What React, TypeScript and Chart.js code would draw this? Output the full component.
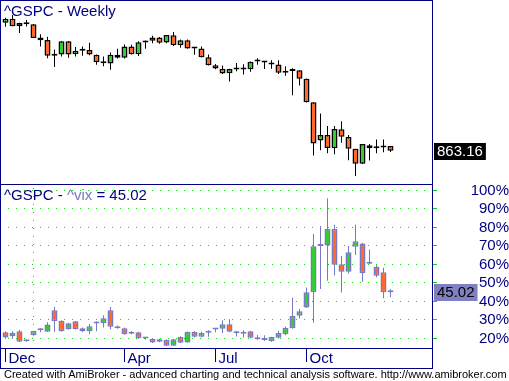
import React, { useEffect, useRef } from 'react';
import { Chart, registerables } from 'chart.js';

Chart.register(...registerables);

// Weekly bars: first week of Dec 2007 up to the week of 22 Dec 2008
const monthLabels = ['Dec', 'Apr', 'Jul', 'Oct'];
const monthBars = [0, 17, 30, 43];
const yearBar = 4;

const topTitle = '^GSPC - Weekly';
const lowTitleParts = ['^GSPC - ', '^vix', ' = 45.02'];
const spxLastLabel = '863.16';
const vixLastLabel = '45.02';

const spxOpen = [1486, 1505, 1468, 1484, 1478, 1414, 1402, 1325, 1331, 1395, 1332, 1350, 1353, 1330, 1293, 1288, 1330, 1316, 1370, 1333, 1390, 1398, 1414, 1389, 1425, 1376, 1400, 1360, 1360, 1318, 1279, 1262, 1240, 1261, 1258, 1260, 1297, 1298, 1292, 1283, 1242, 1251, 1255, 1213, 1099, 913, 940, 876, 968, 930, 873, 800, 890, 876, 879, 887];
const spxHigh = [1510, 1523, 1485, 1499, 1479, 1429, 1418, 1355, 1396, 1396, 1368, 1370, 1388, 1331, 1321, 1341, 1359, 1380, 1378, 1395, 1399, 1422, 1416, 1425, 1440, 1404, 1404, 1366, 1370, 1331, 1285, 1278, 1262, 1290, 1284, 1297, 1313, 1300, 1303, 1303, 1274, 1265, 1255, 1215, 1099, 1044, 984, 984, 1007, 940, 873, 896, 896, 918, 918, 887];
const spxLow = [1466, 1468, 1436, 1467, 1411, 1370, 1313, 1270, 1322, 1316, 1321, 1325, 1328, 1282, 1274, 1257, 1312, 1312, 1331, 1324, 1359, 1386, 1384, 1386, 1373, 1364, 1359, 1330, 1317, 1278, 1260, 1236, 1200, 1250, 1234, 1247, 1282, 1261, 1262, 1236, 1228, 1133, 1180, 1098, 840, 866, 852, 846, 903, 818, 741, 799, 816, 852, 856, 857];
const spxClose = [1504.66, 1467.95, 1484.46, 1478.49, 1411.88, 1401.02, 1325.19, 1330.61, 1395.42, 1331.29, 1349.99, 1353.11, 1330.63, 1293.37, 1288.14, 1329.51, 1315.22, 1370.4, 1332.83, 1390.33, 1397.84, 1413.9, 1388.28, 1425.35, 1375.93, 1400.38, 1360.68, 1360.03, 1317.93, 1278.38, 1262.9, 1239.49, 1260.68, 1257.76, 1260.31, 1296.32, 1298.2, 1292.2, 1282.83, 1242.31, 1251.7, 1255.08, 1213.27, 1099.23, 899.22, 940.55, 876.77, 968.75, 930.99, 873.29, 800.03, 896.24, 876.07, 879.73, 887.88, 863.16];

const vixOpen = [23.4, 21.2, 23.9, 18.5, 21.7, 24.4, 23.7, 35.2, 29.6, 25.0, 29.3, 25.5, 23.9, 28.1, 28.2, 35.2, 26.6, 25.5, 22.6, 23.4, 20.1, 19.9, 18.3, 19.2, 16.1, 20.8, 17.9, 23.5, 21.0, 23.1, 24.8, 25.3, 27.7, 23.9, 22.6, 23.9, 20.6, 19.2, 18.5, 20.4, 22.3, 25.5, 32.3, 36.7, 45.0, 70.0, 70.2, 79.2, 60.1, 56.1, 69.6, 71.4, 60.4, 58.8, 55.8, 45.0];
const vixHigh = [23.9, 23.9, 24.6, 18.7, 24.1, 25.5, 28.8, 37.1, 29.8, 28.5, 29.5, 26.0, 27.8, 29.3, 32.5, 37.0, 27.0, 26.0, 24.0, 23.6, 20.3, 20.2, 19.8, 19.4, 19.8, 21.2, 23.8, 24.0, 23.6, 24.4, 25.7, 29.8, 30.4, 24.2, 24.4, 24.2, 21.9, 21.7, 20.9, 24.2, 26.4, 42.0, 36.0, 47.6, 76.5, 80.8, 95.8, 81.5, 64.6, 70.0, 81.5, 71.8, 68.1, 59.6, 58.2, 46.6];
const vixLow = [19.9, 19.9, 18.1, 18.3, 21.5, 23.4, 23.5, 23.6, 23.7, 24.8, 24.8, 23.4, 22.4, 23.9, 26.0, 25.0, 25.2, 22.0, 22.3, 19.9, 19.3, 17.6, 18.0, 15.9, 15.9, 17.5, 17.7, 20.6, 20.6, 21.0, 23.4, 23.0, 23.4, 21.1, 20.6, 20.1, 19.3, 18.6, 18.3, 20.0, 21.8, 25.3, 30.8, 36.5, 28.5, 46.8, 51.2, 54.0, 44.8, 55.0, 65.1, 50.7, 60.2, 53.1, 41.7, 42.3];
const vixClose = [20.6, 23.1, 18.3, 18.5, 24.1, 24.5, 27.5, 29.5, 23.9, 28.2, 25.0, 23.9, 26.6, 28.3, 30.9, 26.4, 25.5, 22.3, 23.7, 20.1, 20.0, 17.9, 19.6, 16.1, 19.6, 17.7, 23.5, 21.0, 23.0, 23.2, 24.9, 27.7, 23.7, 22.8, 22.7, 20.4, 19.6, 19.3, 20.8, 23.0, 25.7, 32.2, 34.7, 45.0, 69.8, 70.3, 79.2, 59.9, 56.1, 66.6, 72.5, 55.2, 60.6, 53.9, 45.0, 45.02];

const vixTicks = [20, 30, 40, 50, 60, 70, 80, 90, 100];

const NAVY = '#000080';
const SLATE = '#7878C4';
const LABEL_SLATE = '#8080C0';
const UP = '#33CC33';
const DOWN = '#FF6A2A';
const GRID = '#00DD00';
const FONT = 'Arial, "Liberation Sans", sans-serif';

const bodyColors = (o: number[], c: number[]) => o.map((v, i) => (c[i] >= v ? UP : DOWN));

const noPad = (s: any) => {
  s.paddingTop = 0;
  s.paddingBottom = 0;
  s.paddingLeft = 0;
  s.paddingRight = 0;
};

const decorPlugin = {
  id: 'decor',
  beforeDatasetsDraw(chart: any) {
    const { ctx } = chart;
    const xs = chart.scales.x;
    const yb = chart.scales.yBot;
    const px = Math.floor(xs.getPixelForValue(yearBar)) + 0.5;
    ctx.save();
    ctx.strokeStyle = GRID;
    ctx.lineWidth = 1;
    ctx.setLineDash([1, 7]);
    ctx.beginPath();
    ctx.moveTo(px, yb.top + 4);
    ctx.lineTo(px, yb.bottom);
    ctx.stroke();
    ctx.restore();
  },
  afterDraw(chart: any) {
    const { ctx, chartArea } = chart;
    const xs = chart.scales.x;
    const yt = chart.scales.yTop;
    const yb = chart.scales.yBot;
    const L = 0.5;
    const R = Math.round(chartArea.right) + 0.5;
    ctx.save();
    ctx.strokeStyle = NAVY;
    ctx.lineWidth = 1;
    ctx.setLineDash([]);
    ctx.strokeRect(L, Math.round(yt.top) + 0.5, R - L, Math.round(yt.bottom - yt.top));
    ctx.strokeRect(L, Math.round(yb.top) + 0.5, R - L, Math.round(yb.bottom - yb.top));
    ctx.strokeRect(L, Math.round(xs.top) + 0.5, R - L, Math.round(xs.bottom - xs.top));

    // pane titles
    ctx.font = '15px ' + FONT;
    ctx.textBaseline = 'alphabetic';
    ctx.textAlign = 'left';
    ctx.fillStyle = NAVY;
    ctx.fillText(topTitle, 4, yt.top + 16);
    let tx = 4;
    const cols = [NAVY, SLATE, NAVY];
    lowTitleParts.forEach((p, i) => {
      ctx.fillStyle = cols[i];
      ctx.fillText(p, tx, yb.top + 16);
      tx += ctx.measureText(p).width;
    });

    // last value labels
    const n = spxClose.length - 1;
    const y1 = yt.getPixelForValue(spxClose[n]);
    const w1 = ctx.measureText(spxLastLabel).width;
    ctx.fillStyle = '#000000';
    ctx.fillRect(434, Math.round(y1) - 8, w1 + 6, 17);
    ctx.fillStyle = '#ffffff';
    ctx.textBaseline = 'middle';
    ctx.fillText(spxLastLabel, 437, Math.round(y1) + 1);

    const y2 = yb.getPixelForValue(vixClose[n]);
    const w2 = ctx.measureText(vixLastLabel).width;
    ctx.fillStyle = LABEL_SLATE;
    ctx.fillRect(434, Math.round(y2) - 8, w2 + 6, 17);
    ctx.fillStyle = '#000000';
    ctx.fillText(vixLastLabel, 437, Math.round(y2) + 1);
    ctx.restore();
  },
};

export default function App() {
  const ref = useRef<HTMLCanvasElement>(null);

  useEffect(() => {
    const idx = spxOpen.map((_, i) => i);
    const chart = new Chart(ref.current as HTMLCanvasElement, {
      type: 'bar',
      data: {
        datasets: [
          {
            label: 'spx wick',
            data: idx.map((i) => ({ x: i, y: [spxLow[i], spxHigh[i]] })),
            xAxisID: 'x',
            yAxisID: 'yTop',
            backgroundColor: '#000000',
            borderWidth: 0,
            barThickness: 1,
            grouped: false,
            inflateAmount: 0,
            order: 2,
          } as any,
          {
            label: 'spx body',
            data: idx.map((i) => ({ x: i, y: [spxOpen[i], spxClose[i]] })),
            xAxisID: 'x',
            yAxisID: 'yTop',
            backgroundColor: bodyColors(spxOpen, spxClose),
            borderColor: '#000000',
            borderWidth: 1.5,
            borderSkipped: false,
            barThickness: 6,
            minBarLength: 2,
            grouped: false,
            inflateAmount: 0,
            order: 1,
          } as any,
          {
            label: 'vix wick',
            data: idx.map((i) => ({ x: i, y: [vixLow[i], vixHigh[i]] })),
            xAxisID: 'x',
            yAxisID: 'yBot',
            backgroundColor: SLATE,
            borderWidth: 0,
            barThickness: 1,
            grouped: false,
            inflateAmount: 0,
            order: 2,
          } as any,
          {
            label: 'vix body',
            data: idx.map((i) => ({ x: i, y: [vixOpen[i], vixClose[i]] })),
            xAxisID: 'x',
            yAxisID: 'yBot',
            backgroundColor: bodyColors(vixOpen, vixClose),
            borderColor: SLATE,
            borderWidth: 1.5,
            borderSkipped: false,
            barThickness: 6,
            minBarLength: 2,
            grouped: false,
            inflateAmount: 0,
            order: 1,
          } as any,
        ],
      },
      options: {
        animation: false,
        responsive: false,
        devicePixelRatio: 1,
        events: [],
        layout: { autoPadding: false, padding: { left: 0, top: 0, right: 0, bottom: 2 } },
        plugins: {
          legend: { display: false },
          tooltip: { enabled: false },
          title: { display: false },
        },
        scales: {
          x: {
            type: 'linear',
            position: 'bottom',
            min: -5.5 / 7,
            max: 432 / 7 - 5.5 / 7,
            offset: false,
            afterFit: (s: any) => {
              s.height = 20;
              noPad(s);
            },
            afterBuildTicks: (s: any) => {
              s.ticks = monthBars.map((v) => ({ value: v }));
            },
            grid: {
              display: true,
              drawOnChartArea: false,
              drawTicks: true,
              tickLength: 14,
              color: NAVY,
              tickColor: NAVY,
              offset: false,
            },
            border: { display: false },
            ticks: {
              autoSkip: false,
              maxRotation: 0,
              minRotation: 0,
              align: 'start',
              labelOffset: 3,
              padding: -12,
              color: NAVY,
              font: { family: FONT, size: 15 },
              callback: (_v: any, i: number) => monthLabels[i],
            },
          },
          yTop: {
            type: 'linear',
            position: 'right',
            stack: 'panes',
            stackWeight: 184,
            min: 702,
            max: 1596,
            beginAtZero: false,
            afterFit: (s: any) => {
              s.width = 77;
              noPad(s);
            },
            grid: { display: false },
            border: { display: false },
            ticks: { display: false },
          },
          yBot: {
            type: 'linear',
            position: 'right',
            stack: 'panes',
            stackWeight: 164,
            min: 14.86,
            max: 103.5,
            beginAtZero: false,
            afterFit: (s: any) => {
              s.width = 77;
              noPad(s);
            },
            afterBuildTicks: (s: any) => {
              s.ticks = vixTicks.map((v) => ({ value: v }));
            },
            grid: {
              display: true,
              drawOnChartArea: true,
              drawTicks: true,
              tickLength: 5,
              color: GRID,
              tickColor: GRID,
              lineWidth: 1,
            },
            border: { display: false, dash: [1, 7] },
            ticks: {
              autoSkip: false,
              crossAlign: 'far',
              padding: 31,
              color: NAVY,
              font: { family: FONT, size: 15 },
              callback: (v: any) => v + '%',
            },
          },
        },
      } as any,
      plugins: [decorPlugin],
    });
    return () => chart.destroy();
  }, []);

  return (
    <div
      style={{
        position: 'fixed',
        left: 0,
        top: 0,
        width: 509,
        height: 381,
        background: '#ffffff',
        overflow: 'hidden',
      }}
    >
      <canvas ref={ref} width={509} height={370} style={{ display: 'block', width: 509, height: 370 }} />
      <div
        style={{
          position: 'absolute',
          left: 4,
          top: 368,
          fontFamily: FONT,
          fontSize: 11,
          lineHeight: '13px',
          color: '#000000',
          whiteSpace: 'nowrap',
        }}
      >
        Created with AmiBroker - advanced charting and technical analysis software. http://www.amibroker.com
      </div>
    </div>
  );
}
